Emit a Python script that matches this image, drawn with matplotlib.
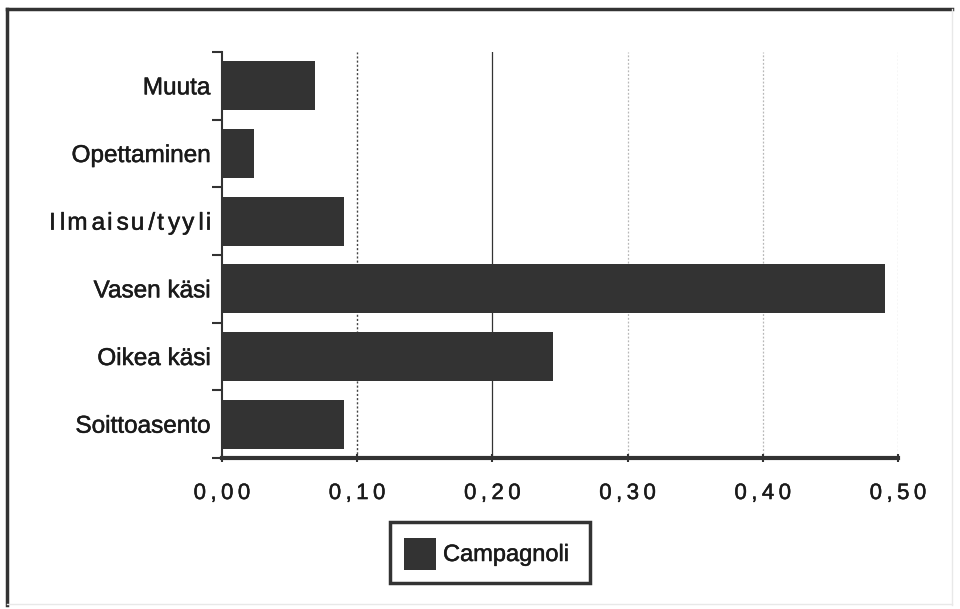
import matplotlib
matplotlib.use("Agg")
import matplotlib.pyplot as plt
import matplotlib.patheffects as pe
from matplotlib.patches import Rectangle
from matplotlib.ticker import FuncFormatter

# Shares per category for Campagnoli
categories = ["Soittoasento", "Oikea käsi", "Vasen käsi", "Ilmaisu/tyyli", "Opettaminen", "Muuta"]
values = [0.090, 0.245, 0.490, 0.090, 0.024, 0.069]
series_name = "Campagnoli"
x_ticks = [0.0, 0.1, 0.2, 0.3, 0.4, 0.5]

plt.rcParams["font.family"] = ["Liberation Sans", "DejaVu Sans"]
bar_color = "#333333"
text_color = "#1a1a1a"
# slightly heavier strokes on all labels
heavy = [pe.withStroke(linewidth=0.35, foreground=text_color)]


def spaced(s, sep="\u200a"):
    return sep.join(s)


def tracked(s):
    # alternate one and two hair spaces between letters
    out = s[0]
    for i, ch in enumerate(s[1:]):
        out += ("\u200a" if i % 2 else "\u200a\u200a") + ch
    return out


fig = plt.figure(figsize=(9.6, 6.09), dpi=100)
ax = fig.add_axes([0.23125, 0.2479, 0.7042, 0.6667])

pos = range(len(categories))
ax.barh(pos, values, height=0.72, color=bar_color, zorder=3)

ax.set_xlim(0, 0.5)
ax.set_ylim(-0.5, len(categories) - 0.5)

# gridlines: first two dark, the rest faint
ax.axvline(0.1, color="#444444", lw=1.0, ls=(0, (1.5, 1.5)), zorder=1)
ax.axvline(0.2, color="#333333", lw=0.9, zorder=1)
for xv in (0.3, 0.4, 0.5):
    ax.axvline(xv, color="#b8b8b8", lw=0.9, ls=(0, (1.5, 1.5)), zorder=1)

ax.set_xticks(x_ticks)
ax.xaxis.set_major_formatter(FuncFormatter(lambda v, p: spaced(f"{v:.2f}".replace(".", ","), "\u2009")))
ax.tick_params(axis="x", length=6, width=1.5, color="#333333", labelsize=16,
               labelcolor=text_color, pad=15, direction="inout")

ax.set_yticks(pos)
ylabels = [tracked(c) if c == "Ilmaisu/tyyli" else c for c in categories]
ax.set_yticklabels(ylabels, fontsize=17.5, color=text_color)
ax.tick_params(axis="y", length=0, pad=8.5)
# boundary ticks between categories on the left spine
ax.set_yticks([i - 0.5 for i in range(len(categories) + 1)], minor=True)
ax.tick_params(axis="y", which="minor", length=7, width=1.5, color="#333333", direction="out")

for lbl in ax.get_xticklabels() + ax.get_yticklabels():
    lbl.set_path_effects(heavy)

for side in ("top", "right"):
    ax.spines[side].set_visible(False)
ax.spines["left"].set_linewidth(1.5)
ax.spines["left"].set_color("#333333")
ax.spines["bottom"].set_linewidth(3)
ax.spines["bottom"].set_color("#333333")

# outer frame: dark on left/top, faint on right/bottom
fig.add_artist(plt.Line2D([0.0075, 0.0075], [0.006, 0.985], transform=fig.transFigure,
                          color="#333333", lw=2.5))
fig.add_artist(plt.Line2D([0.0075, 0.992], [0.985, 0.985], transform=fig.transFigure,
                          color="#333333", lw=2.5))
fig.add_artist(plt.Line2D([0.992, 0.992], [0.006, 0.985], transform=fig.transFigure,
                          color="#e8e8e8", lw=1.0))
fig.add_artist(plt.Line2D([0.0075, 0.992], [0.008, 0.008], transform=fig.transFigure,
                          color="#e8e8e8", lw=1.0))

# legend box
lx0, lx1 = 390 / 960, 590 / 960
ly0, ly1 = 1 - 583 / 609, 1 - 522 / 609
fig.add_artist(Rectangle((lx0, ly0), lx1 - lx0, ly1 - ly0, transform=fig.transFigure,
                         facecolor="white", edgecolor="#333333", lw=2.5))
fig.add_artist(Rectangle((404 / 960, 1 - 570 / 609), 32 / 960, 32 / 609, transform=fig.transFigure,
                         facecolor=bar_color, edgecolor="none"))
fig.text(443 / 960, 1 - 555 / 609, series_name, fontsize=17, color=text_color,
         va="center", ha="left", path_effects=heavy)

fig.savefig("out.png", dpi=100, facecolor="white")
